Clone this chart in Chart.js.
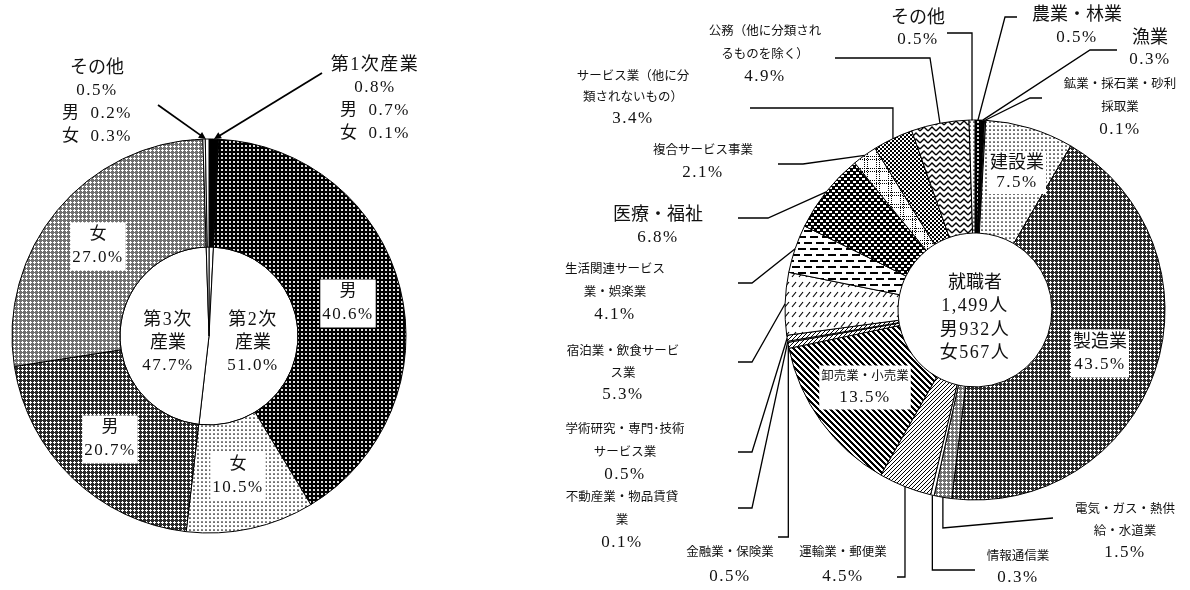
<!DOCTYPE html>
<html>
<head>
<meta charset="utf-8">
<script src="https://cdn.jsdelivr.net/npm/chart.js@4/dist/chart.umd.min.js"></script>
<style>
  html, body { margin: 0; padding: 0; background: #fff; }
  #wrap { position: relative; width: 1190px; height: 590px; }
  canvas { position: absolute; left: 0; top: 0; }
</style>
</head>
<body>
<div id="wrap">
  <canvas id="leftChart" width="1190" height="590"></canvas>
  <canvas id="rightChart" width="1190" height="590"></canvas>
</div>
<script>
// --- data ---
const leftOuterLabels = ['第1次産業 男', '第1次産業 女', '第2次産業 男', '第2次産業 女', '第3次産業 男', '第3次産業 女', 'その他 男', 'その他 女'];
const leftOuterValues = [0.7, 0.1, 40.6, 10.5, 20.7, 27.0, 0.2, 0.3];
const leftInnerLabels = ['第1次産業', '第2次産業', '第3次産業', 'その他'];
const leftInnerValues = [0.8, 51.0, 47.7, 0.5];

const rightLabels = ['農業・林業', '漁業', '鉱業・採石業・砂利採取業', '建設業', '製造業', '電気・ガス・熱供給・水道業', '情報通信業', '運輸業・郵便業', '卸売業・小売業', '金融業・保険業', '不動産業・物品賃貸業', '学術研究・専門･技術サービス業', '宿泊業・飲食サービス業', '生活関連サービス業・娯楽業', '医療・福祉', '複合サービス事業', 'サービス業（他に分類されないもの）', '公務（他に分類されるものを除く）', 'その他'];
const rightValues = [0.5, 0.3, 0.1, 7.5, 43.5, 1.5, 0.3, 4.5, 13.5, 0.5, 0.1, 0.5, 5.3, 4.1, 6.8, 2.1, 3.4, 4.9, 0.5];
const centerLines = ['就職者', '1,499人', '男932人', '女567人'];

const FONT = '"Liberation Serif", "Noto Sans CJK JP", serif';
const font = px => px + 'px ' + FONT;
const pct = v => v.toFixed(1) + '%';

// --- hatch patterns ---
function tile(w, h, bg, draw) {
  const c = document.createElement('canvas');
  c.width = w; c.height = h;
  const g = c.getContext('2d');
  g.fillStyle = bg; g.fillRect(0, 0, w, h);
  g.fillStyle = '#000'; g.strokeStyle = '#000';
  draw(g);
  return g.createPattern(c, 'repeat');
}
const P = {
  blackDots: tile(4, 4, '#000', g => { g.fillStyle = '#ddd'; g.fillRect(1, 1, 2, 2); }),
  whiteDots: tile(4, 4, '#fff', g => { g.beginPath(); g.arc(2, 2, 0.85, 0, Math.PI * 2); g.fill(); }),
  darkCross: tile(4, 4, '#2a2a2a', g => { g.fillStyle = '#fff'; [[2, 1], [1, 2], [2, 2], [3, 2], [2, 3]].forEach(p => g.fillRect(p[0], p[1], 1, 1)); }),
  lightCross: tile(4, 4, '#707070', g => { g.fillStyle = '#fff'; [[2, 1], [1, 2], [2, 2], [3, 2], [2, 3]].forEach(p => g.fillRect(p[0], p[1], 1, 1)); }),
  fineSlash: tile(4, 4, '#fff', g => { [[3, 0], [2, 1], [1, 2], [0, 3]].forEach(p => g.fillRect(p[0], p[1], 1, 1)); }),
  thickBack: tile(6, 6, '#fff', g => { for (let k = 0; k < 6; k++) { g.fillRect(k, k, 1, 1); g.fillRect((k + 1) % 6, k, 1, 1); g.fillRect((k + 2) % 6, k, 1, 1); } }),
  slashRows: tile(7, 10, '#fff', g => { g.lineWidth = 1.2; g.beginPath(); g.moveTo(1, 7); g.lineTo(5, 2); g.stroke(); }),
  dashRows: tile(12, 12, '#fff', g => { g.fillRect(0, 2, 8, 2); g.fillRect(6, 8, 6, 2); g.fillRect(0, 8, 2, 2); }),
  darkDash: tile(6, 6, '#000', g => { g.fillStyle = '#fff'; g.fillRect(1, 1, 3, 2); g.fillRect(4, 4, 2, 2); g.fillRect(0, 4, 1, 2); }),
  plaid: tile(12, 12, '#fff', g => { for (let k = 0; k < 12; k += 2) { g.fillRect(k, 0, 1, 1); g.fillRect(k, 3, 1, 1); g.fillRect(0, k, 1, 1); g.fillRect(3, k, 1, 1); } }),
  checker: tile(4, 4, '#fff', g => { g.fillRect(0, 0, 2, 2); g.fillRect(2, 2, 2, 2); }),
  herring: tile(8, 6, '#fff', g => { g.lineWidth = 1.4; g.beginPath(); g.moveTo(0, 5); g.lineTo(4, 1); g.lineTo(8, 5); g.stroke(); })
};

const leftOuterFills = ['#000', '#000', P.blackDots, P.whiteDots, P.darkCross, P.lightCross, '#fff', '#fff'];
const rightFills = [P.blackDots, '#000', '#fff', P.whiteDots, P.darkCross, P.lightCross, '#fff', P.fineSlash, P.thickBack,
  P.fineSlash, '#fff', P.fineSlash, P.slashRows, P.dashRows, P.darkDash, P.plaid, P.checker, P.herring, P.whiteDots];

// --- helpers ---
function anchorOf(chart, ds, from, to) {
  const arcs = chart.getDatasetMeta(ds).data;
  const mid = (arcs[from].startAngle + arcs[to].endAngle) / 2;
  const r = arcs[from].outerRadius;
  return { x: arcs[from].x + Math.cos(mid) * r, y: arcs[from].y + Math.sin(mid) * r };
}

// lines holding digits get the wide, monospaced-looking spacing of the original
function setLine(ctx, l) {
  ctx.font = font(l[1]);
  ctx.letterSpacing = /\d/.test(l[0]) ? '1.5px' : '0px';
}

function drawBlock(ctx, b, box) {
  ctx.textAlign = 'center';
  ctx.textBaseline = 'middle';
  if (box) {
    let w = 0;
    b.lines.forEach(l => { setLine(ctx, l); w = Math.max(w, ctx.measureText(l[0]).width); });
    ctx.fillStyle = '#fff';
    ctx.fillRect(b.x - w / 2 - 2, b.y - b.lh / 2 - 1, w + 4, b.lines.length * b.lh + 2);
  }
  ctx.fillStyle = '#111';
  b.lines.forEach((l, i) => { setLine(ctx, l); ctx.fillText(l[0], b.x, b.y + i * b.lh); });
  ctx.letterSpacing = '0px';
}

// --- left chart labels ---
const SP = '\u2002';
const leftCallouts = [
  { from: 6, to: 7, x: 97, y: 68, lh: 23, start: [158, 105],
    lines: [['その他', 18], [pct(leftInnerValues[3]), 17], ['男' + SP + pct(leftOuterValues[6]), 17], ['女' + SP + pct(leftOuterValues[7]), 17]] },
  { from: 0, to: 1, x: 375, y: 65, lh: 23, start: [322, 73],
    lines: [['第1次産業', 18], [pct(leftInnerValues[0]), 17], ['男' + SP + pct(leftOuterValues[0]), 17], ['女' + SP + pct(leftOuterValues[1]), 17]] }
];
const leftBoxed = [
  { x: 348, y: 292, lh: 23, lines: [['男', 17], [pct(leftOuterValues[2]), 17]] },
  { x: 238, y: 465, lh: 23, lines: [['女', 17], [pct(leftOuterValues[3]), 17]] },
  { x: 110, y: 428, lh: 23, lines: [['男', 17], [pct(leftOuterValues[4]), 17]] },
  { x: 98, y: 235, lh: 23, lines: [['女', 17], [pct(leftOuterValues[5]), 17]] }
];
const leftInner = [
  { x: 253, y: 320, lh: 23, lines: [['第2次', 18], ['産業', 18], [pct(leftInnerValues[1]), 17]] },
  { x: 168, y: 320, lh: 23, lines: [['第3次', 18], ['産業', 18], [pct(leftInnerValues[2]), 17]] }
];

const leftLabelPlugin = {
  id: 'leftLabels',
  afterDatasetsDraw(chart) {
    const ctx = chart.ctx;
    ctx.save();
    leftBoxed.forEach(b => drawBlock(ctx, b, true));
    leftInner.forEach(b => drawBlock(ctx, b, false));
    leftCallouts.forEach(c => {
      drawBlock(ctx, c, false);
      const a = anchorOf(chart, 0, c.from, c.to);
      const ang = Math.atan2(a.y - c.start[1], a.x - c.start[0]);
      ctx.strokeStyle = '#000';
      ctx.lineWidth = 1.8;
      ctx.beginPath();
      ctx.moveTo(c.start[0], c.start[1]);
      ctx.lineTo(a.x - Math.cos(ang) * 5, a.y - Math.sin(ang) * 5);
      ctx.stroke();
      ctx.fillStyle = '#000';
      ctx.beginPath();
      ctx.moveTo(a.x, a.y);
      ctx.lineTo(a.x - Math.cos(ang - 0.45) * 8, a.y - Math.sin(ang - 0.45) * 8);
      ctx.lineTo(a.x - Math.cos(ang + 0.45) * 8, a.y - Math.sin(ang + 0.45) * 8);
      ctx.closePath();
      ctx.fill();
    });
    ctx.restore();
  }
};

// --- right chart labels ---
const S = 12.5, B = 18, N = 17;
const rightCallouts = [
  { i: 0, x: 1077, y: 15, lh: 23, lines: [['農業・林業', B]], leader: [[1017, 17], [1005, 17]] },
  { i: 1, x: 1150, y: 38, lh: 22, lines: [['漁業', B]], leader: [[1117, 50], [1090, 50]] },
  { i: 2, x: 1120, y: 85, lh: 22.5, lines: [['鉱業・採石業・砂利', S], ['採取業', S]], leader: [[1042, 98], [1030, 98]] },
  { i: 5, x: 1125, y: 510, lh: 21.5, lines: [['電気・ガス・熱供', S], ['給・水道業', S]], leader: [[1053, 518], ['a', 528]] },
  { i: 6, x: 1018, y: 557, lh: 21, lines: [['情報通信業', S]], leader: [[975, 570], ['a', 570]] },
  { i: 7, x: 843, y: 553, lh: 24, lines: [['運輸業・郵便業', S]], leader: [[897, 577], ['a', 577]] },
  { i: 9, x: 730, y: 553, lh: 24, lines: [['金融業・保険業', S]], leader: [[778, 537], ['a', 537]] },
  { i: 10, x: 622, y: 498, lh: 22.5, lines: [['不動産業・物品賃貸', S], ['業', S]], leader: [[738, 508], [752, 508]] },
  { i: 11, x: 625, y: 430, lh: 22.5, lines: [['学術研究・専門･技術', S], ['サービス業', S]], leader: [[738, 452], [752, 452]] },
  { i: 12, x: 623, y: 352, lh: 21.5, lines: [['宿泊業・飲食サービ', S], ['ス業', S]], leader: [[738, 362], [752, 362]] },
  { i: 13, x: 615, y: 270, lh: 22.5, lines: [['生活関連サービス', S], ['業・娯楽業', S]], leader: [[738, 283], [752, 283]] },
  { i: 14, x: 658, y: 215, lh: 23, lines: [['医療・福祉', B]], leader: [[738, 218], [768, 218]] },
  { i: 15, x: 703, y: 151, lh: 22, lines: [['複合サービス事業', S]], leader: [[778, 164], [803, 164]] },
  { i: 16, x: 633, y: 77, lh: 21, lines: [['サービス業（他に分', S], ['類されないもの）', S]], leader: [[750, 108], ['a', 108]] },
  { i: 17, x: 765, y: 32, lh: 22.5, lines: [['公務（他に分類され', S], ['るものを除く）', S]], leader: [[835, 58], [930, 58]] },
  { i: 18, x: 918, y: 18, lh: 22, lines: [['その他', B]], leader: [[947, 33], ['a', 33]] }
];
const rightBoxed = [
  { i: 3, x: 1017, y: 163, lh: 20, lines: [['建設業', B]] },
  { i: 4, x: 1100, y: 342, lh: 23, lines: [['製造業', B]] },
  { i: 8, x: 865, y: 377, lh: 21, lines: [['卸売業・小売業', S]] }
];

const rightLabelPlugin = {
  id: 'rightLabels',
  afterDatasetsDraw(chart) {
    const ctx = chart.ctx;
    ctx.save();
    rightBoxed.forEach(b => {
      drawBlock(ctx, { x: b.x, y: b.y, lh: b.lh, lines: b.lines.concat([[pct(rightValues[b.i]), N]]) }, true);
    });
    rightCallouts.forEach(c => {
      drawBlock(ctx, { x: c.x, y: c.y, lh: c.lh, lines: c.lines.concat([[pct(rightValues[c.i]), N]]) }, false);
      const a = anchorOf(chart, 0, c.i, c.i);
      ctx.strokeStyle = '#000';
      ctx.lineWidth = 1.3;
      ctx.beginPath();
      c.leader.forEach((p, k) => {
        const px = p[0] === 'a' ? a.x : p[0];
        if (k === 0) ctx.moveTo(px, p[1]); else ctx.lineTo(px, p[1]);
      });
      ctx.lineTo(a.x, a.y);
      ctx.stroke();
    });
    const arc = chart.getDatasetMeta(0).data[0];
    drawBlock(ctx, { x: arc.x, y: arc.y - 27, lh: 23.5, lines: centerLines.map(t => [t, 18]) }, false);
    ctx.restore();
  }
};

// --- charts ---
new Chart(document.getElementById('leftChart'), {
  type: 'doughnut',
  data: {
    labels: leftOuterLabels,
    datasets: [
      { data: leftOuterValues, backgroundColor: leftOuterFills, borderColor: '#000', borderWidth: 1, weight: 108 },
      { data: leftInnerValues, labels: leftInnerLabels, backgroundColor: '#fff', borderColor: '#000', borderWidth: 1, weight: 89 }
    ]
  },
  options: {
    responsive: false,
    animation: false,
    cutout: 0,
    radius: 197,
    layout: { padding: { left: 9, right: 781, top: 136, bottom: 54 } },
    plugins: { legend: { display: false }, tooltip: { enabled: false } }
  },
  plugins: [leftLabelPlugin]
});

new Chart(document.getElementById('rightChart'), {
  type: 'doughnut',
  data: {
    labels: rightLabels,
    datasets: [{ data: rightValues, backgroundColor: rightFills, borderColor: '#000', borderWidth: 1 }]
  },
  options: {
    responsive: false,
    animation: false,
    cutout: '40.5%',
    radius: 190,
    layout: { padding: { left: 775, right: 15, top: 110, bottom: 80 } },
    plugins: { legend: { display: false }, tooltip: { enabled: false } }
  },
  plugins: [rightLabelPlugin]
});
</script>
</body>
</html>
